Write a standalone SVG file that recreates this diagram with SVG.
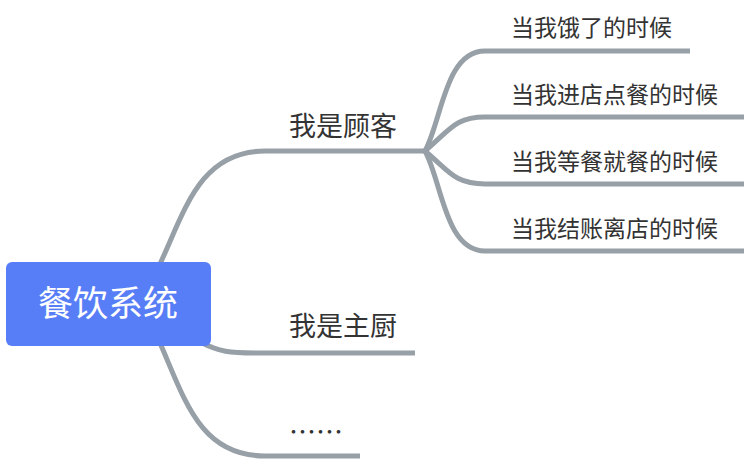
<svg xmlns="http://www.w3.org/2000/svg" width="744" height="460" viewBox="0 0 744 460">
<style>
.c{fill:none;stroke:#979fa7;stroke-width:5;stroke-linecap:butt}
.t{font-family:"Noto Sans CJK SC","Noto Sans",sans-serif;fill:#333}
.r{font-family:"Noto Sans CJK SC","Noto Sans",sans-serif;fill:#fff}
</style>
<rect width="744" height="460" fill="#fff"/>
<g id="connectors">
<path class="c" d="M160 264 C185 210 200 151 265 151 L427 151"/>
<path class="c" d="M425 151 C442 120 445 51 485 51 L690 51"/>
<path class="c" d="M425 151 C450 130 455 117 485 117 L744 117"/>
<path class="c" d="M425 151 C450 172 455 184 485 184 L744 184"/>
<path class="c" d="M425 151 C442 182 445 251 485 251 L744 251"/>
<path class="c" d="M200 342 C220 352 230 353 255 353 L415 353"/>
<path class="c" d="M160 343 C185 400 200 456 265 456 L360 456"/>
</g>
<g id="root">
<rect x="6" y="262" width="205" height="84" rx="6" fill="#587ef7"/>
<text class="r" x="108" y="316" font-size="35" text-anchor="middle">餐饮系统</text>
</g>
<g id="n1"><text class="t" x="289" y="136" font-size="27">我是顾客</text></g>
<g id="n2"><text class="t" x="289" y="336" font-size="27">我是主厨</text></g>
<g id="n3"><text class="t" x="289" y="442" font-size="27">……</text></g>
<g id="c1"><text class="t" x="511" y="36" font-size="23">当我饿了的时候</text></g>
<g id="c2"><text class="t" x="511" y="103" font-size="23">当我进店点餐的时候</text></g>
<g id="c3"><text class="t" x="511" y="170" font-size="23">当我等餐就餐的时候</text></g>
<g id="c4"><text class="t" x="511" y="237" font-size="23">当我结账离店的时候</text></g>
</svg>
